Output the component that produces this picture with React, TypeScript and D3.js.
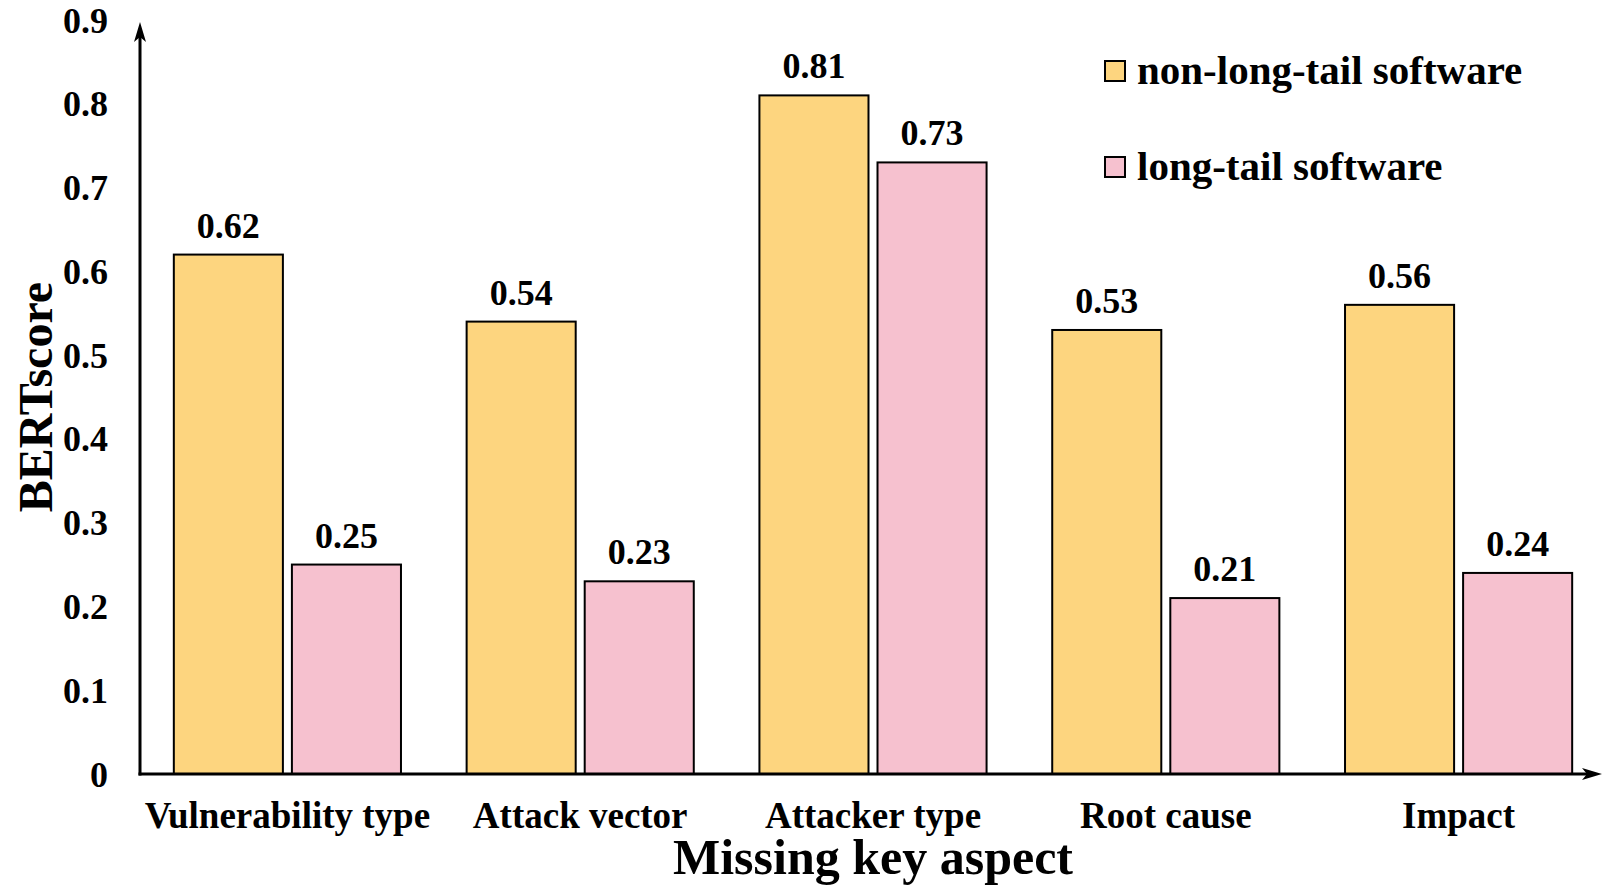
import React from "react";
import * as d3 from "d3";

const categories = ["Vulnerability type", "Attack vector", "Attacker type", "Root cause", "Impact"];
const seriesNames = ["non-long-tail software", "long-tail software"];
const nonLongTail = [0.62, 0.54, 0.81, 0.53, 0.56];
const longTail = [0.25, 0.23, 0.73, 0.21, 0.24];
const yTicks = [0, 0.1, 0.2, 0.3, 0.4, 0.5, 0.6, 0.7, 0.8, 0.9];
const colors = ["#FDD57F", "#F6C1CF"];

const W = 1605;
const H = 889;
const FONT = "'Liberation Serif', 'Times New Roman', serif";

export default function App() {
  const axisX = 140;
  const axisY = 774;
  const y = d3.scaleLinear().domain([0, 0.9]).range([axisY, 20]);
  const x0 = d3.scaleBand<string>().domain(categories).range([141, 1605]).padding(0);
  const x1 = d3
    .scaleBand<string>()
    .domain(seriesNames)
    .range([0, x0.bandwidth()])
    .paddingInner(0.0763)
    .paddingOuter(0.278);
  const series = [nonLongTail, longTail];
  const fmt = d3.format(".2f");

  const arrowUp = `M${axisX},${22} L${axisX - 6},${42} L${axisX},${37} L${axisX + 6},${42} Z`;
  const xEnd = 1602;
  const arrowRight = `M${xEnd},${axisY} L${xEnd - 20},${axisY - 6} L${xEnd - 15},${axisY} L${xEnd - 20},${axisY + 6} Z`;

  return (
    <svg width={W} height={H} style={{ position: "absolute", left: 0, top: 0, background: "#fff" }} fontFamily={FONT} fontWeight="bold">
      <rect x={0} y={0} width={W} height={H} fill="#fff" />
      {categories.map((c, i) =>
        seriesNames.map((s, j) => {
          const v = series[j][i];
          const bx = (x0(c) as number) + (x1(s) as number);
          return (
            <g key={c + s}>
              <rect
                x={bx}
                y={y(v)}
                width={x1.bandwidth()}
                height={axisY - y(v)}
                fill={colors[j]}
                stroke="#000"
                strokeWidth={2}
              />
              <text x={bx + x1.bandwidth() / 2} y={y(v) - 17} textAnchor="middle" fontSize={36} fill="#000">
                {fmt(v)}
              </text>
            </g>
          );
        })
      )}
      {/* axes */}
      <line x1={axisX} y1={axisY + 1.5} x2={axisX} y2={32} stroke="#000" strokeWidth={3} />
      <path d={arrowUp} fill="#000" />
      <line x1={axisX - 1.5} y1={axisY} x2={xEnd - 8} y2={axisY} stroke="#000" strokeWidth={3} />
      <path d={arrowRight} fill="#000" />
      {yTicks.map((t) => (
        <text key={t} x={108} y={y(t)} dy="0.35em" textAnchor="end" fontSize={36} fill="#000">
          {t === 0 ? "0" : d3.format(".1f")(t)}
        </text>
      ))}
      {categories.map((c) => (
        <text key={c} x={(x0(c) as number) + x0.bandwidth() / 2} y={828} textAnchor="middle" fontSize={37} fill="#000">
          {c}
        </text>
      ))}
      <text x={873} y={874} textAnchor="middle" fontSize={50} fill="#000">
        Missing key aspect
      </text>
      <text transform={`translate(52,397) rotate(-90)`} textAnchor="middle" fontSize={48} fill="#000">
        BERTscore
      </text>
      {/* legend */}
      {seriesNames.map((s, j) => (
        <g key={s} transform={`translate(1105, ${61 + j * 96})`}>
          <rect x={0} y={0} width={20} height={20} fill={colors[j]} stroke="#000" strokeWidth={2} />
          <text x={32} y={23} fontSize={41} fill="#000">
            {s}
          </text>
        </g>
      ))}
    </svg>
  );
}
